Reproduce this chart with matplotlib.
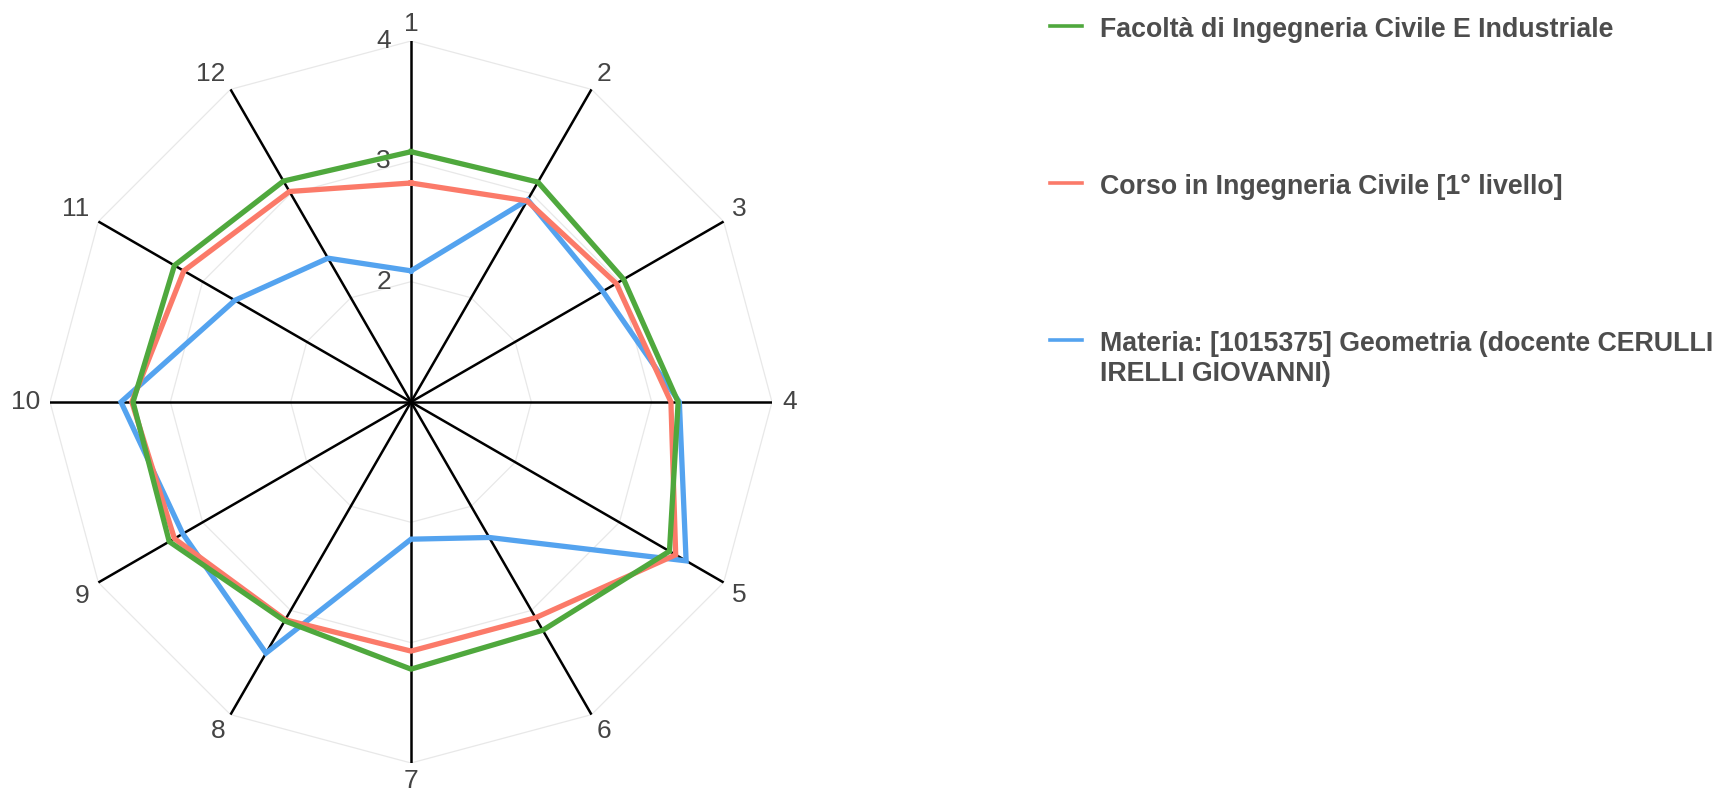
import numpy as np
import matplotlib
matplotlib.use("Agg")
import matplotlib.pyplot as plt
import matplotlib.transforms as mtransforms
from matplotlib.lines import Line2D

plt.rcParams['font.family'] = ['Liberation Sans', 'DejaVu Sans']

# data
categories = ['1', '2', '3', '4', '5', '6', '7', '8', '9', '10', '11', '12']
facolta = [3.08, 3.11, 3.04, 3.22, 3.48, 3.19, 3.22, 3.10, 3.32, 3.31, 3.27, 3.12]
corso = [2.82, 2.93, 2.97, 3.16, 3.54, 3.07, 3.07, 3.09, 3.27, 3.32, 3.18, 3.02]
materia = [2.09, 2.94, 2.84, 3.23, 3.64, 2.30, 2.14, 3.41, 3.19, 3.41, 2.69, 2.38]
series_names = ["Facoltà di Ingegneria Civile E Industriale",
                "Corso in Ingegneria Civile [1° livello]",
                "Materia: [1015375] Geometria (docente CERULLI\nIRELLI GIOVANNI)"]
series_colors = ['#4fa83d', '#fb7a69', '#54a3ef']
r_ticks = [2, 3, 4]
r_min, r_max = 1, 4

W, H = 1722, 790
fig = plt.figure(figsize=(W / 100, H / 100), dpi=100)

def fx(x):
    return x / W

def fy(y):
    return 1 - y / H

cx, cy, R = 411, 402, 361
ax = fig.add_axes([fx(cx - R), fy(cy + R), 2 * R / W, 2 * R / H], projection='polar')
ax.set_theta_zero_location('N')
ax.set_theta_direction(-1)
ax.set_ylim(r_min, r_max)
ax.grid(False)
ax.set_xticks([])
ax.set_yticks([])
ax.spines['polar'].set_visible(False)
ax.patch.set_alpha(0)

n = len(categories)
theta = np.arange(n) * 2 * np.pi / n
theta_closed = np.append(theta, theta[0])

# polygon grid rings
for rt in r_ticks:
    ax.plot(theta_closed, [rt] * (n + 1), color='#e8e8e8', lw=0.9, zorder=1)

# spokes
for t in theta:
    ax.plot([t, t], [r_min, r_max], color='black', lw=1.8, zorder=2)

# series (blue at the bottom, green on top)
data = [facolta, corso, materia]
for vals, col, z in zip(data[::-1], series_colors[::-1], [3, 4, 5]):
    v = np.append(vals, vals[0])
    ax.plot(theta_closed, v, color=col, lw=3.8, zorder=z, solid_joinstyle='miter')

# radial tick labels along axis 1
tick_tr = mtransforms.offset_copy(ax.transData, fig=fig, x=-20, y=0, units='dots')
for rt in r_ticks:
    ax.text(0, rt, str(rt), transform=tick_tr, ha='right', va='center',
            fontsize=19, color='#444444', zorder=2.5)

# category labels
for t, lab in zip(theta, categories):
    sx, sy = np.sin(t), np.cos(t)
    gap = 10
    dx, dy = gap * sx, gap * sy
    if sy > 0.1:
        dy -= 5
    elif sy < -0.1:
        dy += 4
    tr = mtransforms.offset_copy(ax.transData, fig=fig, x=dx, y=dy, units='dots')
    ha = 'left' if sx > 0.1 else ('right' if sx < -0.1 else 'center')
    va = 'bottom' if sy > 0.1 else ('top' if sy < -0.1 else 'center')
    ax.text(t, r_max, lab, transform=tr, ha=ha, va=va, fontsize=19,
            color='#444444', clip_on=False)

# legend
leg_y = [26, 183, 340]
for name, col, y in zip(series_names, series_colors, leg_y):
    fig.add_artist(Line2D([fx(1050), fx(1082)], [fy(y), fy(y)], color=col, lw=2.6,
                          transform=fig.transFigure))
    fig.text(fx(1100), fy(y - 9), name, ha='left', va='top', fontsize=19.3,
             fontweight='bold', color='#4d4d4d', linespacing=1.2,
             transform=fig.transFigure)

fig.savefig('out.png', dpi=100)
